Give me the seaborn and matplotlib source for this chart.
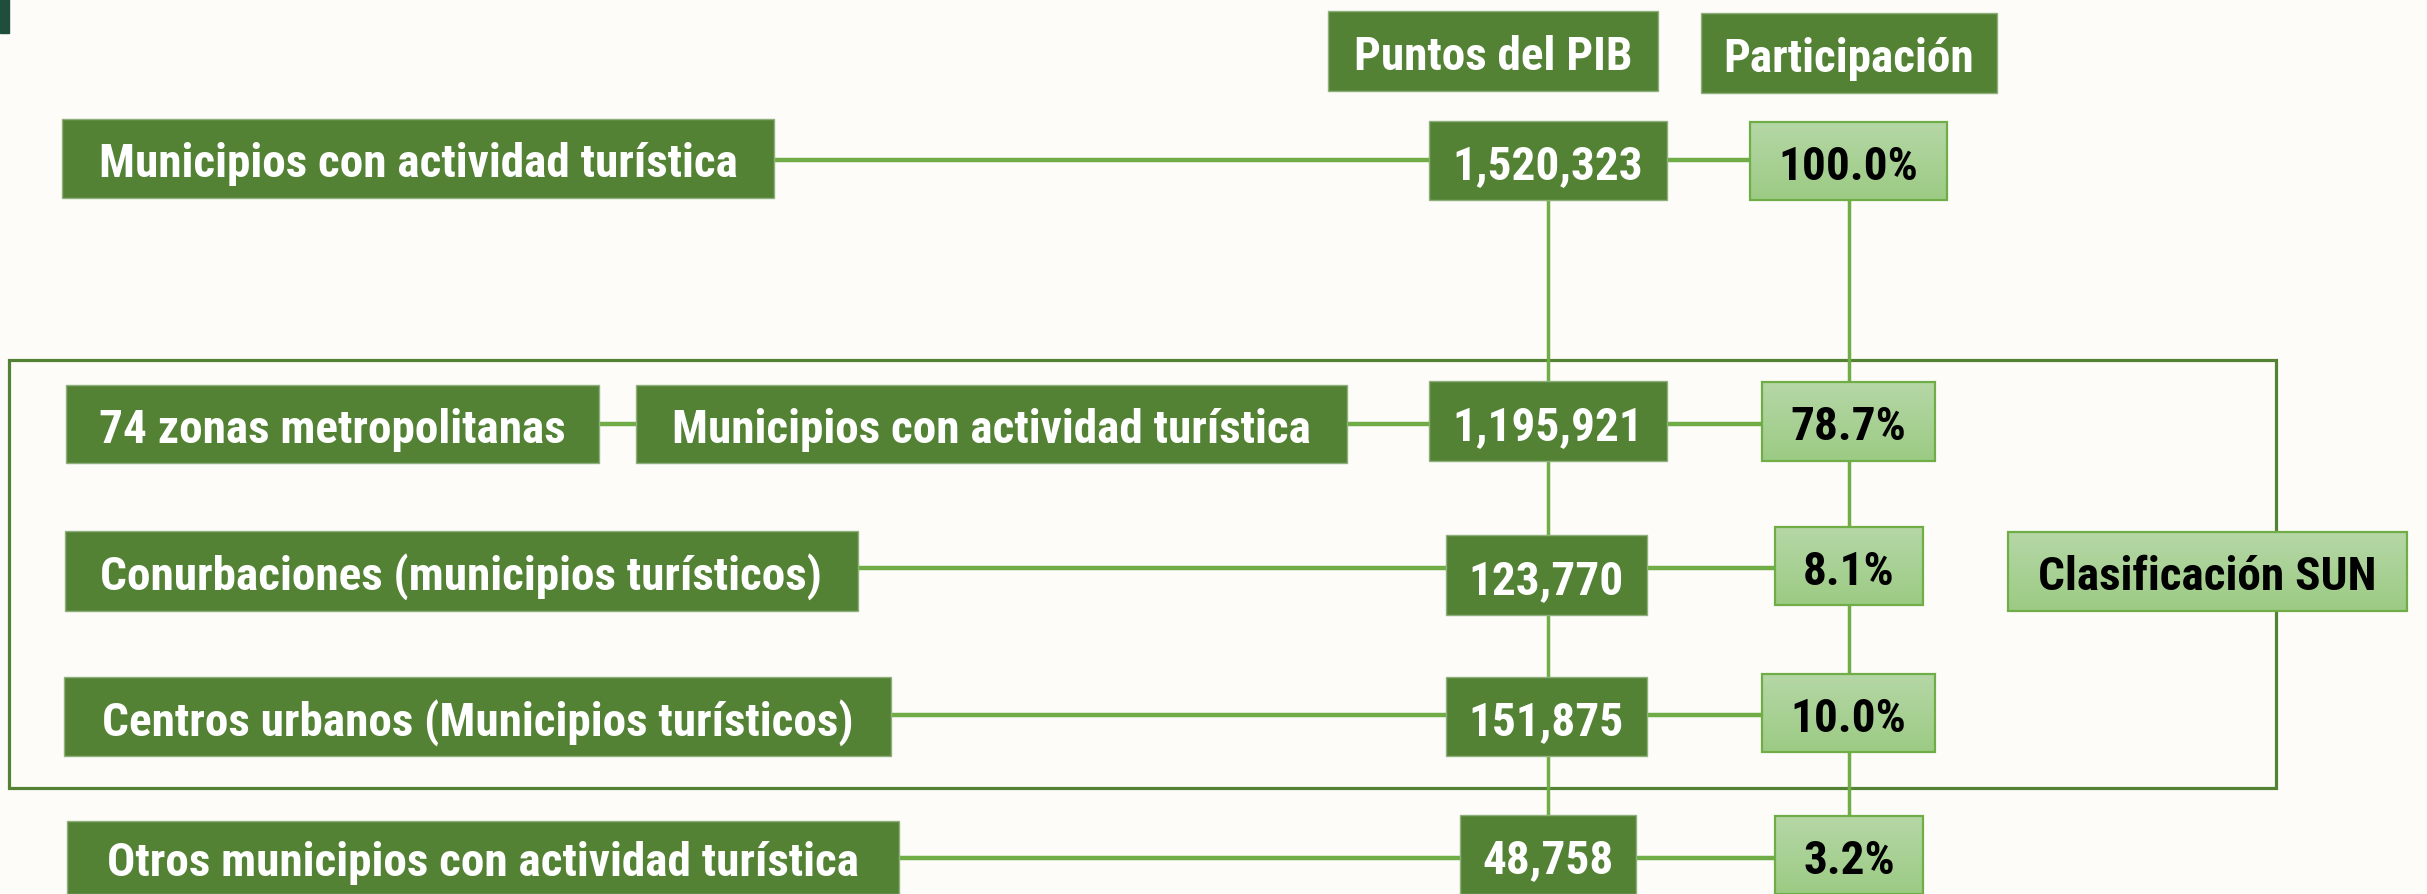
import numpy as np
import matplotlib.pyplot as plt
import matplotlib.patches as patches
from matplotlib import font_manager
import seaborn as sns

# data
row_labels = ['Municipios con actividad turística',
              'Municipios con actividad turística',
              'Conurbaciones (municipios turísticos)',
              'Centros urbanos (Municipios turísticos)',
              'Otros municipios con actividad turística']
pib_points = [1520323, 1195921, 123770, 151875, 48758]
share_pct = [100.0, 78.7, 8.1, 10.0, 3.2]
group_label = '74 zonas metropolitanas'
col_headers = ['Puntos del PIB', 'Participación']
sun_label = 'Clasificación SUN'

# layout in pixels (x0, x1, y0, y1), y grows downward
label_boxes = [(62, 774, 120, 199), (636, 1347, 386, 464), (65, 858, 532, 612),
               (64, 891, 678, 757), (67, 899, 822, 895)]
pib_boxes = [(1429, 1667, 122, 201), (1429, 1667, 382, 462), (1446, 1647, 536, 616),
             (1446, 1647, 678, 757), (1460, 1636, 816, 895)]
share_boxes = [(1750, 1947, 123, 201), (1762, 1935, 383, 462), (1775, 1923, 528, 606),
               (1762, 1935, 675, 753), (1775, 1923, 817, 895)]
row_y = [161, 425, 569, 716, 859]
group_box = (66, 599, 386, 464)
header_boxes = [(1328, 1658, 12, 92), (1701, 1997, 14, 94)]
sun_box = (2008, 2407, 533, 612)
frame = (9, 2276, 361, 789)

DARK = '#548235'
LINE = '#70AD47'

# narrowest installed family
installed = {f.name for f in font_manager.fontManager.ttflist}
family = next((f for f in ['Liberation Sans Narrow', 'Roboto Condensed', 'DejaVu Sans Condensed',
                           'Lato', 'Roboto'] if f in installed), 'DejaVu Sans')

sns.set_theme(style='white')
plt.rcParams['font.family'] = [family, 'DejaVu Sans']

fig = plt.figure(figsize=(24.27, 8.95), dpi=100)
fig.patch.set_facecolor('#FDFCF9')
ax = fig.add_axes([0, 0, 1, 1])
ax.set_facecolor('#FDFCF9')
ax.set_xlim(0, 2427)
ax.set_ylim(895, 0)
ax.axis('off')

# corner mark
ax.add_patch(patches.Rectangle((0, 0), 9, 34, color='#1F4E3D', zorder=1))

# frame around the SUN group
fx0, fx1, fy0, fy1 = frame
ax.add_patch(patches.Rectangle((fx0, fy0), fx1 - fx0, fy1 - fy0, fill=False,
                               edgecolor=DARK, lw=2.3, zorder=2))

# vertical connectors
pib_x = (pib_boxes[0][0] + pib_boxes[0][1]) / 2
share_x = (share_boxes[0][0] + share_boxes[0][1]) / 2
ax.plot([pib_x, pib_x], [row_y[0], row_y[-1]], color=LINE, lw=2.5, zorder=2)
ax.plot([share_x, share_x], [row_y[0], row_y[-1]], color=LINE, lw=2.5, zorder=2)

# horizontal connectors
for i, y in enumerate(row_y):
    ax.plot([label_boxes[i][1], share_boxes[i][0]], [y, y], color=LINE, lw=3.2, zorder=2)
ax.plot([group_box[1], label_boxes[1][0]], [row_y[1], row_y[1]], color=LINE, lw=3.2, zorder=2)

grad = np.linspace(0, 1, 100).reshape(-1, 1)
light_cmap = sns.blend_palette(['#B5D7A6', '#9CCB84'], as_cmap=True)
FS = 34
CAP = 0.711 * 100 / 72  # cap height in px per point
texts = []


def put_text(b, text, color, z):
    x0, x1, y0, y1 = b
    cy = (y0 + y1) / 2 + 1
    t = ax.text((x0 + x1) / 2, cy + CAP * FS / 2, text, color=color, fontsize=FS,
                fontweight='bold', ha='center', va='baseline', zorder=z)
    texts.append((t, x1 - x0 - 16, cy))


def dark_box(b, text):
    x0, x1, y0, y1 = b
    ax.add_patch(patches.Rectangle((x0, y0), x1 - x0, y1 - y0, facecolor=DARK,
                                   edgecolor='#8FB07C', lw=1, zorder=3))
    put_text(b, text, 'white', 4)


def light_box(b, text):
    x0, x1, y0, y1 = b
    ax.imshow(grad, extent=(x0, x1, y1, y0), cmap=light_cmap, aspect='auto',
              origin='upper', zorder=3)
    ax.add_patch(patches.Rectangle((x0, y0), x1 - x0, y1 - y0, fill=False,
                                   edgecolor=LINE, lw=1.6, zorder=4))
    put_text(b, text, 'black', 5)


for b, t in zip(header_boxes, col_headers):
    dark_box(b, t)
for b, t in zip(label_boxes, row_labels):
    dark_box(b, t)
dark_box(group_box, group_label)
for b, v in zip(pib_boxes, pib_points):
    dark_box(b, f'{v:,}')
for b, v in zip(share_boxes, share_pct):
    light_box(b, f'{v:.1f}%')
light_box(sun_box, sun_label)

# shrink any text that would spill out of its box
renderer = fig.canvas.get_renderer()
for t, room, cy in texts:
    w = t.get_window_extent(renderer).width
    if w > room:
        fs = FS * room / w
        t.set_fontsize(fs)
        t.set_y(cy + CAP * fs / 2)

ax.set_xlim(0, 2427)
ax.set_ylim(895, 0)
fig.savefig('out.png', dpi=100, facecolor=fig.get_facecolor())
